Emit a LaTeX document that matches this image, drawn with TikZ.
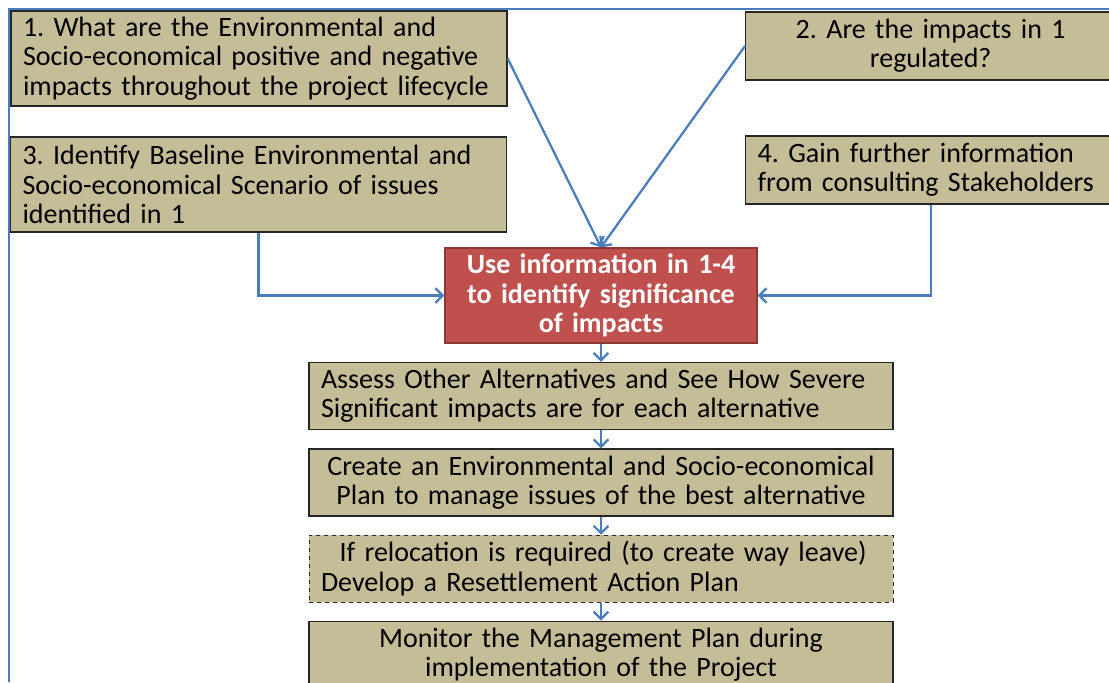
\documentclass[tikz,border=0pt]{standalone}
\usepackage{fontspec}
\setmainfont{Carlito}
\usetikzlibrary{arrows,arrows.meta}
\usetikzlibrary{positioning}
\definecolor{khaki}{RGB}{196,189,151}
\definecolor{brick}{RGB}{192,80,77}
\definecolor{brickline}{RGB}{140,56,54}
\definecolor{flowblue}{RGB}{74,126,187}
\newcommand{\boxfont}[0]{\fontsize{21pt}{22pt}\selectfont\frenchspacing}

\begin{document}
\begin{tikzpicture}[x=0.75pt,y=-0.75pt,node distance=13.6pt]
\tikzstyle{question} = [rectangle, minimum width=372pt, text width=354pt, minimum height=71.25pt, inner xsep=9pt, draw=black!85, line width=1pt, fill=khaki, align=left, font=\boxfont]
\tikzstyle{side} = [question, anchor=west, minimum width=277.5pt, text width=259.5pt, minimum height=51pt]
\tikzstyle{significance} = [rectangle, minimum width=234pt, text width=216pt, minimum height=71.25pt, inner xsep=9pt, draw=brickline, line width=1pt, fill=brick, text=white, align=center, font=\boxfont\bfseries]
\tikzstyle{action} = [rectangle, minimum width=438pt, text width=420pt, minimum height=50.25pt, inner xsep=9pt, draw=black!85, line width=1pt, fill=khaki, align=left, font=\boxfont]
\tikzstyle{frame} = [draw=flowblue, line width=1.2pt]

\tikzstyle{arrow} = [draw=flowblue, line width=1.7pt, -{Straight Barb[length=5.5pt,width=11pt]}]

\useasboundingbox (0,0) rectangle (1109,682);
\clip (0,0) rectangle (1109,682);

\draw [frame] (9,682) -- (9,9) -- (1109,9);

\node (q1) [question] at (259,58.5) {1. What are the Environmental and\\Socio-economical positive and negative\\impacts throughout the project lifecycle};
\node (q2) [side, align=center] at (745,46) {2. Are the impacts in 1\\regulated?};
\node (q3) [question] at (258.5,184.5) {3. Identify Baseline Environmental and\\Socio-economical Scenario of issues\\identified in 1};
\node (q4) [side] at (745,170) {4. Gain further information\\from consulting Stakeholders};

\node (use) [significance] at (601,295.5) {Use information in 1-4\\to identify significance\\of impacts};

\node (assess) [action, below=of use] {Assess Other Alternatives and See How Severe\\Significant impacts are for each alternative};
\node (create) [action, below=of assess, align=center] {Create an Environmental and Socio-economical\\Plan to manage issues of the best alternative};
\node (relocate) [action, below=of create, dashed, line width=0.6pt] {\hspace*{14pt}If relocation is required (to create way leave)\\Develop a Resettlement Action Plan};
\node (monitor) [action, below=of relocate, align=center] {Monitor the Management Plan during\\implementation of the Project};

\draw [arrow] (q1.east) -- (use.north);
\draw [arrow] (q2.west) -- (use.north);
\draw [arrow] (q3.south) |- (use.west);
\draw [arrow] (q4.south) |- (use.east);

\foreach \a/\b in {use/assess,assess/create,create/relocate,relocate/monitor}
{
\draw [arrow] (\a) -- (\b);
}

\end{tikzpicture}
\end{document}
